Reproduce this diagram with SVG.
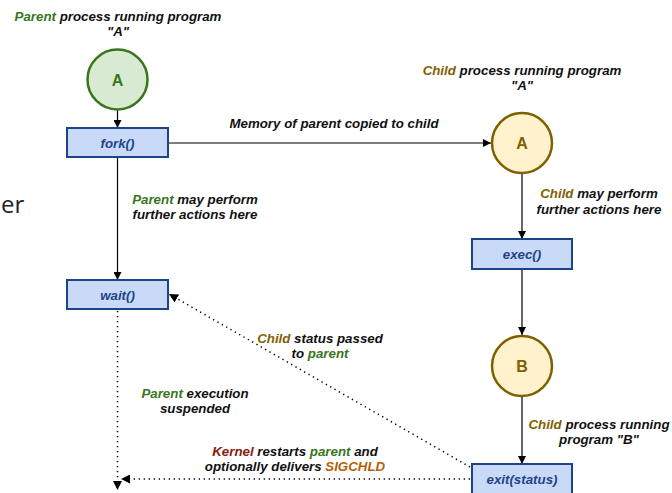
<svg xmlns="http://www.w3.org/2000/svg" width="672" height="493" viewBox="0 0 672 493">
<defs>
<style>
.t{font-family:"Liberation Sans",Arial,sans-serif;font-size:13.3px;font-weight:bold;font-style:italic;fill:#111;text-anchor:middle}
.g{fill:#38761d}
.y{fill:#7f6000}
.k{fill:#85200c}
.o{fill:#b45f06}
.box{fill:#c9daf8;stroke:#1c4587;stroke-width:2}
.bt{font-family:"Liberation Sans",Arial,sans-serif;font-size:13.3px;font-weight:bold;font-style:italic;fill:#1c4587;text-anchor:middle}
.cg{fill:#d9ead3;stroke:#38761d;stroke-width:2.5}
.cy{fill:#fff2cc;stroke:#7f6000;stroke-width:2.5}
.ct{font-family:"Liberation Sans",Arial,sans-serif;font-size:16px;font-weight:bold;text-anchor:middle}
.ln{stroke:#000;stroke-width:1.2;fill:none}
.dt{stroke:#000;stroke-width:1.5;fill:none;stroke-dasharray:1.3 3.7}
</style>
<marker id="ah" viewBox="0 0 10 10" refX="10" refY="5" markerWidth="8" markerHeight="8" markerUnits="userSpaceOnUse" orient="auto">
<path d="M0,0 L10,5 L0,10 z" fill="#000"/>
</marker>
<marker id="ahd" viewBox="0 0 10 10" refX="10" refY="5" markerWidth="9" markerHeight="9" markerUnits="userSpaceOnUse" orient="auto">
<path d="M0,0 L10,5 L0,10 z" fill="#000"/>
</marker>
</defs>
<rect width="672" height="493" fill="#fff"/>

<text x="1" y="213" font-family="'Open Sans','Noto Sans',sans-serif" font-size="24" fill="#222">er</text>

<g id="connectors">
<line class="ln" x1="117.5" y1="110" x2="117.5" y2="128" marker-end="url(#ah)"/>
<line class="ln" x1="168" y1="143" x2="491" y2="143" marker-end="url(#ah)"/>
<line class="ln" x1="117.5" y1="157" x2="117.5" y2="280" marker-end="url(#ah)"/>
<line class="ln" x1="522" y1="174" x2="522" y2="239" marker-end="url(#ah)"/>
<line class="ln" x1="522" y1="269" x2="522" y2="335" marker-end="url(#ah)"/>
<line class="ln" x1="522" y1="397" x2="522" y2="464" marker-end="url(#ah)"/>
<line class="dt" x1="117.5" y1="311" x2="117.5" y2="490" marker-end="url(#ahd)"/>
<line class="dt" x1="470" y1="467" x2="169" y2="294" marker-end="url(#ahd)"/>
<line class="dt" x1="470" y1="479" x2="121" y2="479" marker-end="url(#ahd)"/>
</g>

<g id="parentA">
<circle class="cg" cx="117.5" cy="79.5" r="30"/>
<text class="ct" x="117.5" y="85.5" fill="#38761d">A</text>
</g>
<g id="fork">
<rect class="box" x="67" y="128" width="101" height="29"/>
<text class="bt" x="117.5" y="147.5">fork()</text>
</g>
<g id="wait">
<rect class="box" x="67" y="280" width="101" height="29"/>
<text class="bt" x="117.5" y="299.5">wait()</text>
</g>
<g id="childA">
<circle class="cy" cx="522" cy="143" r="30"/>
<text class="ct" x="522" y="149" fill="#7f6000">A</text>
</g>
<g id="exec">
<rect class="box" x="472" y="239" width="100" height="30"/>
<text class="bt" x="522" y="258.5">exec()</text>
</g>
<g id="childB">
<circle class="cy" cx="522" cy="366" r="30"/>
<text class="ct" x="522" y="372" fill="#7f6000">B</text>
</g>
<g id="exit">
<rect class="box" x="472" y="464" width="100" height="31"/>
<text class="bt" x="522" y="484">exit(status)</text>
</g>

<g id="labels">
<text class="t" x="118" y="21"><tspan class="g">Parent</tspan> process running program</text>
<text class="t" x="118" y="36">"A"</text>
<text class="t" x="522" y="75"><tspan class="y">Child</tspan> process running program</text>
<text class="t" x="522" y="90">"A"</text>
<text class="t" x="334" y="128">Memory of parent copied to child</text>
<text class="t" x="195" y="204"><tspan class="g">Parent</tspan> may perform</text>
<text class="t" x="195" y="219">further actions here</text>
<text class="t" x="599" y="198"><tspan class="y">Child</tspan> may perform</text>
<text class="t" x="599" y="214">further actions here</text>
<text class="t" x="320" y="343"><tspan class="y">Child</tspan> status passed</text>
<text class="t" x="320" y="358">to <tspan class="g">parent</tspan></text>
<text class="t" x="195" y="398"><tspan class="g">Parent</tspan> execution</text>
<text class="t" x="195" y="413">suspended</text>
<text class="t" x="599" y="429"><tspan class="y">Child</tspan> process running</text>
<text class="t" x="599" y="444">program "B"</text>
<text class="t" x="295" y="456"><tspan class="k">Kernel</tspan> restarts <tspan class="g">parent</tspan> and</text>
<text class="t" x="295" y="471">optionally delivers <tspan class="o">SIGCHLD</tspan></text>
</g>
</svg>
